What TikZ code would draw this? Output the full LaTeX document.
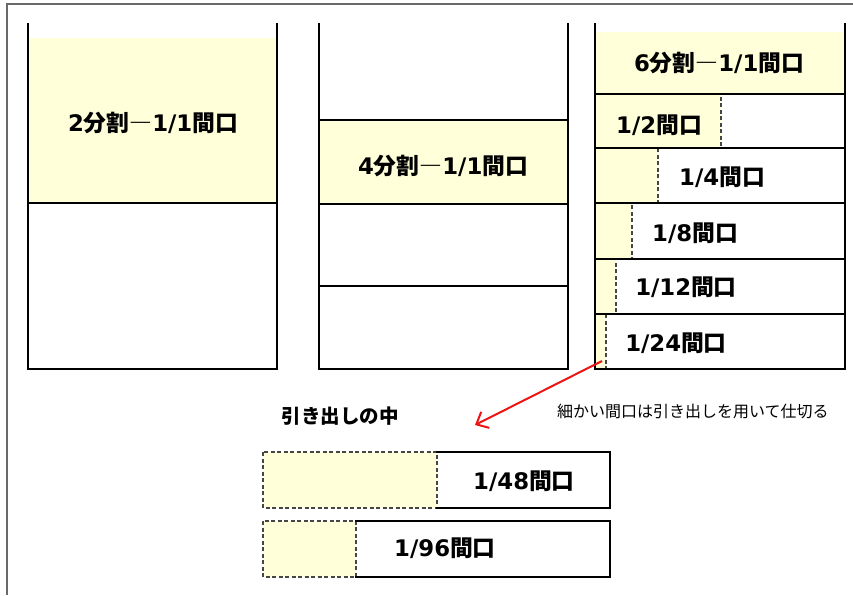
\documentclass[tikz,border=0pt]{standalone}
\usepackage{fontspec}
\newfontfamily\jp{Noto Sans CJK JP}
\newfontfamily\dv{DejaVu Sans}
\usetikzlibrary{arrows.meta}
\definecolor{cellyellow}{RGB}{255,255,218}
\definecolor{framegray}{RGB}{105,105,105}
\definecolor{dashgray}{RGB}{70,70,70}
\definecolor{arrowred}{RGB}{238,20,20}
\newcommand{\dg}[1]{{\dv\bfseries #1}}
\tikzset{
  wall/.style={draw=black, line width=2.2pt, line cap=rect},
  yfill/.style={fill=cellyellow, draw=none},
  ydash/.style={fill=cellyellow, draw=dashgray, line width=1.4pt, dash pattern=on 4pt off 2.5pt},
  biglab/.style={font=\jp\bfseries\fontsize{22.8}{25}\selectfont, inner sep=0pt},
  boldlab/.style={font=\jp\bfseries\fontsize{19.5}{22}\selectfont, inner sep=0pt},
  note/.style={font=\jp\fontsize{16}{18}\selectfont, inner sep=0pt, anchor=west},
  redarrow/.style={draw=arrowred, line width=2pt, -{Straight Barb[length=10pt,width=18pt,line width=2pt]}}
}
\begin{document}
\begin{tikzpicture}[x=1pt, y=-1pt]
\useasboundingbox (0,0) rectangle (853,595);
\fill[white] (0,0) rectangle (853,595);
% outer frame (partial)
\draw[framegray, line width=1.5pt] (7,595) -- (7,4) -- (853,4);

% ----- column 1
\fill[yfill] (28,38) rectangle (277,203);
\draw[wall] (28,24) -- (28,369) -- (277,369) -- (277,24);
\draw[wall] (28,203) -- (277,203);
\node[biglab] (c1) at (153,123) {\dg{2}分割―\dg{1/1}間口};

% ----- column 2
\fill[yfill] (319,120) rectangle (568,204);
\draw[wall] (319,24) -- (319,369) -- (568,369) -- (568,24);
\draw[wall] (319,120) -- (568,120);
\draw[wall, line width=1.5pt] (319,204) -- (568,204);
\draw[wall] (319,286) -- (568,286);
\node[biglab] (c2) at (443,166) {\dg{4}分割―\dg{1/1}間口};

% ----- column 3
\fill[yfill] (595,32) rectangle (845,94);
\draw[ydash] (595,94) rectangle (721,148);
\draw[ydash] (595,148) rectangle (658,203);
\draw[ydash] (595,203) rectangle (632,259);
\draw[ydash] (595,259) rectangle (616,314);
\draw[ydash] (595,314) rectangle (606,369);
\draw[wall] (595,24) -- (595,369) -- (845,369) -- (845,24);
\foreach \yy in {94,148,203,259,314} \draw[wall] (595,\yy) -- (845,\yy);
\node[biglab] (c3) at (719,63) {\dg{6}分割―\dg{1/1}間口};
\node[biglab] (r2) at (659,125) {\dg{1/2}間口};
\node[biglab] (r4) at (722,177) {\dg{1/4}間口};
\node[biglab] (r8) at (695,233) {\dg{1/8}間口};
\node[biglab] (r12) at (686,287) {\dg{1/12}間口};
\node[biglab] (r24) at (676,343) {\dg{1/24}間口};

% ----- arrow and notes
\coordinate (arrS) at (602,361);
\coordinate (arrE) at (475,425);
\draw[redarrow] (arrS) -- (arrE);
\node[boldlab] (drawer) at (340,416) {引き出しの中};
\node[note] (note) at (557,411) {細かい間口は引き出しを用いて仕切る};

% ----- drawers
\draw[ydash] (263,452) rectangle (437,508);
\draw[wall] (437,452) -- (610,452) -- (610,508) -- (437,508);
\node[biglab] (d48) at (524,481) {\dg{1/48}間口};

\draw[ydash] (263,521) rectangle (356,577);
\draw[wall] (356,521) -- (610,521) -- (610,577) -- (356,577);
\node[biglab] (d96) at (445,548) {\dg{1/96}間口};
\end{tikzpicture}
\end{document}
